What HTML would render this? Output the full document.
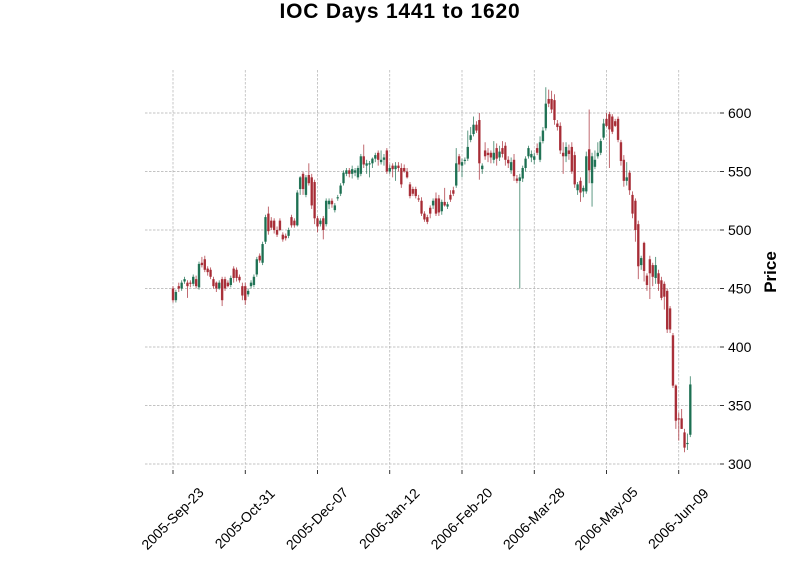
<!DOCTYPE html>
<html><head><meta charset="utf-8"><style>
body{margin:0;background:#fff}
svg{display:block;font-family:"Liberation Sans","DejaVu Sans",sans-serif}
</style></head><body>
<svg id="chart" width="800" height="575" viewBox="0 0 800 575" xmlns="http://www.w3.org/2000/svg">
<text x="400" y="18" text-anchor="middle" font-size="21" font-weight="bold" letter-spacing="0.8">IOC Days 1441 to 1620</text>
<g id="grid"></g>
<g id="candles"></g>
<g id="axes"></g>
<text x="0" y="0" transform="translate(776,272) rotate(-90)" text-anchor="middle" font-size="17" font-weight="bold">Price</text>
</svg>
<script>
const opens=[450,440,452,450,456,455,455,454,458,451,472,475,467,466,458,455,450,458,458,455,453,467,466,460,452,452,445,452,453,462,478,472,490,514,508,508,500,508,496,495,495,511,508,504,535,548,530,547,545,541,510,505,510,505,522,525,517,527,531,540,548,551,548,549,545,548,563,555,556,557,561,566,558,560,568,550,555,552,555,553,553,550,539,535,535,527,525,514,511,519,521,527,527,516,524,520,530,534,538,563,555,559,561,577,582,590,594,552,568,566,566,560,570,562,570,572,560,551,560,544,542,544,553,563,562,560,570,560,576,587,612,612,611,591,589,566,563,568,571,564,534,542,533,533,569,540,554,563,566,579,595,599,597,593,595,575,560,542,549,530,525,505,470,489,461,475,470,459,463,457,454,448,433,410,367,339,339,327,317,325];
const highs=[452,449,455,457,460,457,457,462,461,473,477,478,469,468,460,456,457,460,460,457,461,469,468,462,455,455,450,457,462,477,480,490,513,520,511,510,503,510,498,497,502,513,510,534,546,550,547,557,548,543,512,510,512,527,527,527,523,530,540,551,553,553,555,553,555,565,573,560,559,562,566,568,568,565,570,556,557,558,558,557,556,553,541,537,537,530,528,516,513,521,527,532,530,526,536,524,534,537,570,565,561,562,585,588,597,593,600,557,575,570,568,576,574,572,576,575,563,562,565,547,548,555,563,572,568,566,574,580,588,622,620,619,616,594,592,575,575,573,575,567,541,545,538,567,603,566,568,575,578,595,600,601,599,595,597,577,564,558,551,533,527,508,478,490,463,478,472,477,466,460,456,450,435,412,368,344,347,330,326,375];
const lows=[438,438,447,448,454,442,451,452,450,449,468,464,461,458,450,447,449,435,448,451,451,455,456,455,440,436,443,450,451,460,472,470,488,496,500,497,494,499,490,491,493,502,502,503,530,530,528,538,518,505,498,503,492,503,518,519,515,525,529,538,546,545,544,546,543,546,553,548,545,553,558,555,556,555,548,548,545,542,550,536,549,544,527,529,527,524,512,507,505,510,518,512,512,513,520,518,524,529,536,550,545,556,559,575,580,583,543,548,560,558,557,557,555,559,562,555,553,548,542,540,450,541,550,561,558,556,564,558,574,585,605,600,590,585,565,548,558,560,548,536,530,524,528,531,540,520,552,561,564,577,588,553,582,588,575,555,537,538,530,510,490,458,466,456,448,441,452,454,448,440,432,412,412,365,330,320,330,310,312,323];
const closes=[440,447,450,455,458,452,454,460,452,471,470,466,464,460,452,450,455,440,450,452,459,459,459,457,444,440,448,455,460,475,474,488,511,499,502,500,496,500,492,493,500,504,504,532,545,535,545,540,521,510,503,508,500,525,525,522,521,528,538,549,551,548,552,551,553,563,556,557,557,561,564,560,560,562,550,553,552,555,553,539,550,545,529,531,529,526,514,509,507,514,525,514,515,524,521,522,526,531,557,556,558,560,571,581,590,585,557,555,563,564,562,566,561,567,565,560,557,558,546,542,545,553,561,570,565,563,566,575,585,608,608,603,594,588,568,563,571,565,550,539,539,532,536,563,551,563,560,566,576,591,589,586,584,589,577,559,542,545,534,514,500,469,476,465,453,463,460,470,454,442,443,415,415,367,337,338,330,314,318,368];
const tickLabels=["2005-Sep-23","2005-Oct-31","2005-Dec-07","2006-Jan-12","2006-Feb-20","2006-Mar-28","2006-May-05","2006-Jun-09"];
const tickIdx=[0,25,50,75,100,125,150,175];
const yTicks=[300,350,400,450,500,550,600];

const NS="http://www.w3.org/2000/svg";
const X0=173, DX=2.89, PL=145, PR=720, PT=70, PB=470;
function xs(i){return X0+i*DX;}
function ys(p){return 464-(p-300)*1.17;}
function mk(tag,attrs,parent){const e=document.createElementNS(NS,tag);for(const k in attrs)e.setAttribute(k,attrs[k]);parent.appendChild(e);return e;}
const grid=document.getElementById('grid'),cg=document.getElementById('candles'),ax=document.getElementById('axes');
yTicks.forEach(v=>{
  const y=ys(v);
  const l=mk('line',{x1:PL,x2:PR,y1:y,y2:y,stroke:'#b0b0b0','stroke-width':0.7,'stroke-dasharray':'2.5,1.5'},grid);
  
  
  const t=mk('line',{x1:PR,x2:PR+4,y1:y,y2:y,stroke:'#000','stroke-width':0.8},ax);
  
  
  const tx=mk('text',{x:PR+8,y:y+5,'font-size':14},ax);
  tx.textContent=v;
  
  
});
tickIdx.forEach((idx,k)=>{
  const x=xs(idx);
  const l=mk('line',{x1:x,x2:x,y1:PT,y2:PB,stroke:'#b0b0b0','stroke-width':0.7,'stroke-dasharray':'2.5,1.5'},grid);
  
  
  const t=mk('line',{x1:x,x2:x,y1:PB,y2:PB+4,stroke:'#000','stroke-width':0.8},ax);
  
  
  const tx=mk('text',{x:0,y:0,'font-size':14,'text-anchor':'middle',transform:`translate(${x+3},${PB+52}) rotate(-45)`},ax);
  tx.textContent=tickLabels[k];
  
  
});
for(let i=0;i<closes.length;i++){
  const up=closes[i]>=opens[i];
  const col=up?'#13694a':'#a3222c';
  const x=xs(i);
  const w=mk('line',{x1:x,x2:x,y1:ys(highs[i]),y2:ys(lows[i]),stroke:col,'stroke-width':0.9,'stroke-opacity':0.75},cg);
  
  
  const top=ys(Math.max(opens[i],closes[i])),bot=ys(Math.min(opens[i],closes[i]));
  const b=mk('rect',{x:x-1.2,y:top,width:2.4,height:Math.max(0.8,bot-top),fill:col,'fill-opacity':0.9},cg);
  
  
}
</script>
</body></html>
